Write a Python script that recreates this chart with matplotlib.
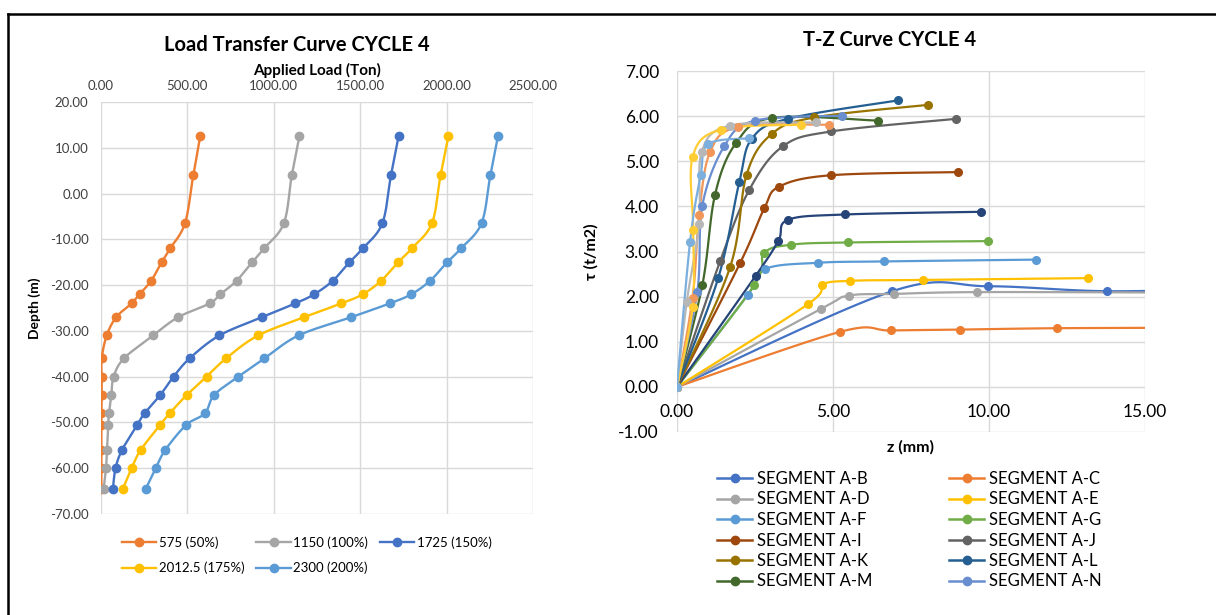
import numpy as np
import matplotlib
matplotlib.use("Agg")
import matplotlib.pyplot as plt
from matplotlib.lines import Line2D

plt.rcParams['font.family'] = ['Lato', 'DejaVu Sans']

# ---- left chart data: load transfer ----
depth = [12.5, 4.0, -6.5, -12.0, -15.0, -19.0, -22.0, -24.0, -27.0, -31.0,
         -36.0, -40.0, -44.0, -48.0, -50.5, -56.0, -60.0, -64.5]
load_575 = [574, 534, 486, 400, 351, 291, 223, 177, 88, 33,
            4, 4, 4, 2, 2, 2, 2, 2]
load_1150 = [1148, 1104, 1058, 943, 875, 786, 691, 629, 447, 301,
             133, 73, 60, 46, 42, 35, 29, 15]
load_1725 = [1722, 1678, 1628, 1515, 1438, 1343, 1234, 1124, 932, 685,
             513, 420, 343, 252, 210, 122, 84, 69]
load_2012 = [2010, 1965, 1915, 1798, 1720, 1623, 1515, 1391, 1176, 909,
             724, 611, 496, 398, 343, 230, 177, 126]
load_2300 = [2297, 2253, 2202, 2083, 2003, 1906, 1796, 1671, 1448, 1143,
             946, 794, 655, 602, 494, 372, 317, 259]
load_labels = ['575 (50%)', '1150 (100%)', '1725 (150%)', '2012.5 (175%)', '2300 (200%)']
load_colors = ['#ED7D31', '#A5A5A5', '#4472C4', '#FFC000', '#5B9BD5']

# ---- right chart data: t-z curves ----
seg_names = ['SEGMENT A-B', 'SEGMENT A-C', 'SEGMENT A-D', 'SEGMENT A-E', 'SEGMENT A-F',
             'SEGMENT A-G', 'SEGMENT A-H', 'SEGMENT A-I', 'SEGMENT A-J', 'SEGMENT A-K',
             'SEGMENT A-L', 'SEGMENT A-M', 'SEGMENT A-N', 'SEGMENT A-O', 'SEGMENT A-P',
             'SEGMENT A-Q', 'SEGMENT A-R']
seg_colors = ['#4472C4', '#ED7D31', '#A5A5A5', '#FFC000', '#5B9BD5', '#70AD47', '#264478',
              '#9E480E', '#636363', '#997300', '#255E91', '#43682B', '#698ED0', '#F1975A',
              '#B7B7B7', '#FFCD33', '#7CAFDD']
z_ab = [0, 6.9, 9.97, 13.78, 18.0]
t_ab = [0, 2.12, 2.23, 2.12, 2.18]
z_ac = [0, 5.23, 6.86, 9.08, 12.19, 16.5]
t_ac = [0, 1.22, 1.25, 1.27, 1.30, 1.31]
z_ad = [0, 4.62, 5.5, 6.96, 9.63, 16.0]
t_ad = [0, 1.73, 2.02, 2.06, 2.10, 2.09]
z_ae = [0, 4.21, 4.64, 5.56, 7.89, 13.17]
t_ae = [0, 1.84, 2.26, 2.35, 2.37, 2.41]
z_af = [0, 2.27, 2.82, 4.52, 6.62, 11.5]
t_af = [0, 2.04, 2.61, 2.75, 2.78, 2.82]
z_ag = [0, 2.48, 2.79, 3.66, 5.48, 9.97]
t_ag = [0, 2.26, 2.96, 3.15, 3.20, 3.23]
z_ah = [0, 2.52, 3.25, 3.55, 5.37, 9.74]
t_ah = [0, 2.46, 3.24, 3.70, 3.82, 3.88]
z_ai = [0, 2.02, 2.80, 3.28, 4.94, 9.0]
t_ai = [0, 2.74, 3.96, 4.44, 4.69, 4.76]
z_aj = [0, 1.38, 2.32, 3.39, 4.94, 8.94]
t_aj = [0, 2.78, 4.37, 5.33, 5.66, 5.94]
z_ak = [0, 1.70, 2.23, 3.03, 4.4, 8.05]
t_ak = [0, 2.65, 4.70, 5.60, 5.97, 6.25]
z_al = [0, 1.32, 2.0, 2.4, 3.55, 7.09]
t_al = [0, 2.41, 4.55, 5.50, 5.94, 6.35]
z_am = [0, 0.81, 1.22, 1.89, 3.05, 6.45]
t_am = [0, 2.25, 4.26, 5.40, 5.96, 5.90]
z_an = [0, 0.65, 0.81, 1.52, 2.5, 5.28]
t_an = [0, 2.11, 4.01, 5.34, 5.90, 6.01]
z_ao = [0, 0.50, 0.71, 1.06, 1.97, 4.88]
t_ao = [0, 1.98, 3.81, 5.20, 5.76, 5.81]
z_ap = [0, 0.31, 0.71, 0.79, 1.70, 4.46]
t_ap = [0, 1.87, 3.61, 5.20, 5.79, 5.86]
z_aq = [0, 0.50, 0.52, 0.50, 1.40, 3.96]
t_aq = [0, 1.77, 3.48, 5.09, 5.70, 5.81]
z_ar = [0, 0.42, 0.76, 1.0, 2.32]
t_ar = [0, 3.22, 4.70, 5.38, 5.51]
seg_z = [z_ab, z_ac, z_ad, z_ae, z_af, z_ag, z_ah, z_ai, z_aj, z_ak, z_al, z_am, z_an,
         z_ao, z_ap, z_aq, z_ar]
seg_t = [t_ab, t_ac, t_ad, t_ae, t_af, t_ag, t_ah, t_ai, t_aj, t_ak, t_al, t_am, t_an,
         t_ao, t_ap, t_aq, t_ar]
legend_order = ['SEGMENT A-B', 'SEGMENT A-D', 'SEGMENT A-F', 'SEGMENT A-I', 'SEGMENT A-K',
                'SEGMENT A-M', 'SEGMENT A-C', 'SEGMENT A-E', 'SEGMENT A-G', 'SEGMENT A-J',
                'SEGMENT A-L', 'SEGMENT A-N']


def smooth(x, y, n=24):
    # excel style smoothed line (bezier through the points)
    p = np.column_stack([x, y]).astype(float)
    if len(p) < 3:
        return p[:, 0], p[:, 1]
    pp = np.vstack([p[0], p, p[-1]])
    t = np.linspace(0, 1, n)[:, None]
    out = []
    for i in range(1, len(pp) - 2):
        p0, p1, p2, p3 = pp[i - 1], pp[i], pp[i + 1], pp[i + 2]
        c1 = p1 + (p2 - p0) / 6.0
        c2 = p2 - (p3 - p1) / 6.0
        seg = ((1 - t) ** 3) * p1 + 3 * ((1 - t) ** 2) * t * c1 + 3 * (1 - t) * t ** 2 * c2 + t ** 3 * p2
        out.append(seg if i == 1 else seg[1:])
    out = np.vstack(out)
    return out[:, 0], out[:, 1]


fig = plt.figure(figsize=(12.16, 6.15), dpi=100)
grid_c = '#D9D9D9'

# ---------------- left chart ----------------
ax1 = fig.add_axes([101 / 1216, 1 - 514 / 615, 432 / 1216, 412 / 615])
left_handles = []
for loads, lab, col in zip([load_575, load_1150, load_1725, load_2012, load_2300],
                           load_labels, load_colors):
    sx, sy = smooth(loads, depth)
    ax1.plot(sx, sy, color=col, lw=1.7, zorder=3)
    ax1.plot(loads, depth, 'o', color=col, ms=6, zorder=4)
    left_handles.append(Line2D([], [], color=col, lw=1.7, marker='o', ms=6, label=lab))

ax1.set_xlim(0, 2500)
ax1.set_ylim(-70, 20)
ax1.set_xticks(np.arange(0, 2501, 500))
ax1.set_yticks(np.arange(-70, 21, 10))
ax1.xaxis.tick_top()
ax1.xaxis.set_label_position('top')
ax1.xaxis.set_major_formatter(matplotlib.ticker.FormatStrFormatter('%.2f'))
ax1.yaxis.set_major_formatter(matplotlib.ticker.FormatStrFormatter('%.2f'))
ax1.grid(True, color=grid_c, lw=1)
ax1.set_axisbelow(True)
for s in ax1.spines.values():
    s.set_visible(False)
ax1.tick_params(length=0, labelsize=9.5, colors='#404040')
ax1.tick_params(axis='x', pad=7)
ax1.tick_params(axis='y', pad=9)
ax1.set_xlabel('Applied Load (Ton)', fontsize=11, fontweight='bold', labelpad=4)
ax1.set_ylabel('Depth (m)', fontsize=10, fontweight='bold', labelpad=6)
fig.text(297 / 1216, 1 - 45 / 615, 'Load Transfer Curve CYCLE 4', ha='center', va='center',
         fontsize=14.5, fontweight='bold')
# legend order row-wise like excel
lo = [0, 3, 1, 4, 2]
fig.legend([left_handles[i] for i in lo], [load_labels[i] for i in lo], ncol=3,
           loc='upper left', bbox_to_anchor=(122 / 1216, 1 - 536 / 615), frameon=False,
           fontsize=9.5, handlelength=2.6, handletextpad=0.2, columnspacing=0.9,
           labelspacing=1.0, borderaxespad=0, borderpad=0)

# ---------------- right chart ----------------
ax2 = fig.add_axes([677 / 1216, 1 - 432 / 615, 468 / 1216, 361 / 615])
right_handles = {}
for zz, tt, name, col in zip(seg_z, seg_t, seg_names, seg_colors):
    sx, sy = smooth(zz, tt)
    ax2.plot(sx, sy, color=col, lw=1.6, zorder=3)
    ax2.plot(zz, tt, 'o', color=col, ms=5.5, zorder=4)
    right_handles[name] = Line2D([], [], color=col, lw=1.8, marker='o', ms=6)

ax2.set_xlim(0, 15)
ax2.set_ylim(-1, 7)
ax2.set_xticks(np.arange(0, 16, 5))
ax2.set_yticks(np.arange(-1, 8, 1))
ax2.xaxis.set_major_formatter(matplotlib.ticker.FormatStrFormatter('%.2f'))
ax2.yaxis.set_major_formatter(matplotlib.ticker.FormatStrFormatter('%.2f'))
ax2.grid(True, color=grid_c, lw=1)
ax2.set_axisbelow(True)
for s in ax2.spines.values():
    s.set_visible(False)
ax2.spines['bottom'].set_position(('data', 0))
ax2.tick_params(length=0, labelsize=12.5, colors='#000000')
ax2.tick_params(axis='x', pad=12)
ax2.tick_params(axis='y', pad=13)
ax2.set_xlabel('z (mm)', fontsize=11.5, fontweight='bold')
ax2.xaxis.set_label_coords(0.5, -0.022)
ax2.set_ylabel('τ (t/m2)', fontsize=11.5, fontweight='bold', labelpad=14)
fig.text(890 / 1216, 1 - 40 / 615, 'T-Z Curve CYCLE 4', ha='center', va='center',
         fontsize=14.5, fontweight='bold')
fig.legend([right_handles[n] for n in legend_order], legend_order, ncol=2,
           loc='upper left', bbox_to_anchor=(717 / 1216, 1 - 471 / 615), frameon=False,
           fontsize=12, handlelength=2.1, handletextpad=0.3, columnspacing=4.6,
           labelspacing=0.27, borderaxespad=0, borderpad=0)

# outer frame (top and left edges visible)
fig.add_artist(Line2D([8 / 1216, 8 / 1216], [0, 1 - 14 / 615], color='black', lw=1.8,
                      transform=fig.transFigure))
fig.add_artist(Line2D([8 / 1216, 1], [1 - 14 / 615, 1 - 14 / 615], color='black', lw=1.8,
                      transform=fig.transFigure))

fig.savefig('out.png', dpi=100)
